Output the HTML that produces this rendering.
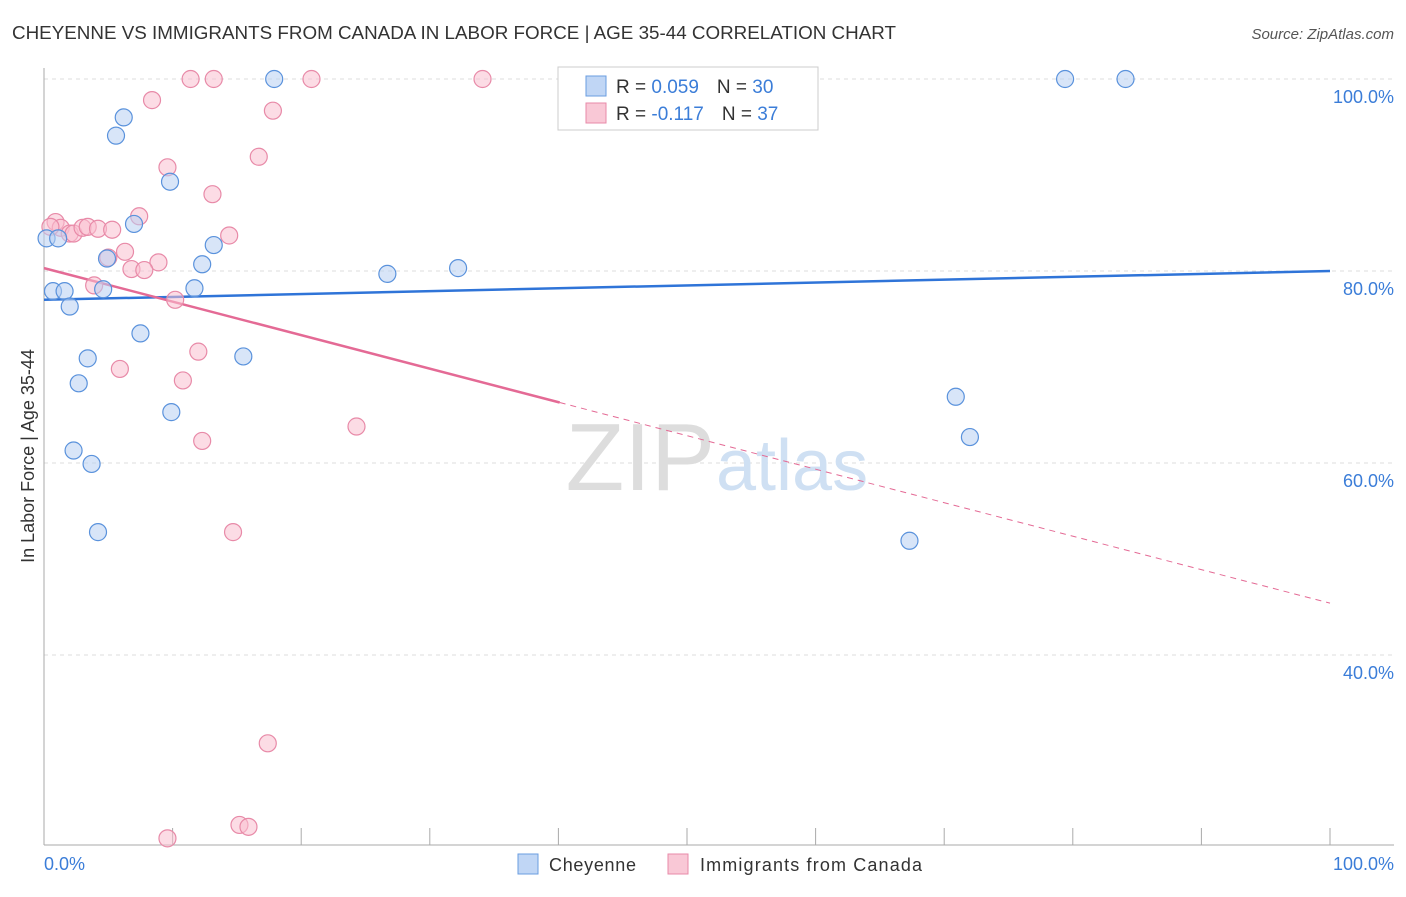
<!DOCTYPE html>
<html><head><meta charset="utf-8">
<style>
body{margin:0;background:#fff;font-family:"Liberation Sans",sans-serif;}
svg text{font-family:"Liberation Sans",sans-serif;}
</style></head>
<body>
<svg id="chart" width="1406" height="892">
<text x="12" y="39" font-size="18" fill="#333" textLength="884" lengthAdjust="spacingAndGlyphs">CHEYENNE VS IMMIGRANTS FROM CANADA IN LABOR FORCE | AGE 35-44 CORRELATION CHART</text>
<text x="1394" y="39" font-size="15" fill="#555" text-anchor="end" font-style="italic">Source: ZipAtlas.com</text>
<g id="grid"></g>
<line x1="44" y1="68" x2="44" y2="845" stroke="#aaa"/>
<line x1="44" y1="845" x2="1394" y2="845" stroke="#aaa"/>
<g id="xticks"></g>
<text x="715" y="490" font-size="96" fill="#ddd" text-anchor="end" font-family="Liberation Serif">ZIP</text>
<text x="716" y="490" font-size="72" fill="#cfe0f3">atlas</text>
<g id="trend"></g>
<g id="points"></g>
<text x="34" y="456" font-size="18" fill="#333" text-anchor="middle" transform="rotate(-90 34 456)">In Labor Force | Age 35-44</text>
<text x="44" y="870" font-size="18" fill="#3b7dd8">0.0%</text>
<text x="1394" y="870" font-size="18" fill="#3b7dd8" text-anchor="end">100.0%</text>
<g>
<rect x="558" y="67" width="260" height="63" fill="#fff" stroke="#ccc"/>
<rect x="586" y="76" width="20" height="20" fill="#c0d6f5" stroke="#6a9de0"/>
<rect x="586" y="103" width="20" height="20" fill="#f9c8d6" stroke="#e88aa8"/>
<text x="616" y="93" font-size="19" fill="#333">R = <tspan fill="#3b7dd8">0.059</tspan><tspan dx="18">N = </tspan><tspan fill="#3b7dd8">30</tspan></text>
<text x="616" y="120" font-size="19" fill="#333">R = <tspan fill="#3b7dd8">-0.117</tspan><tspan dx="18">N = </tspan><tspan fill="#3b7dd8">37</tspan></text>
</g>
<g>
<rect x="518" y="854" width="20" height="20" fill="#c0d6f5" stroke="#6a9de0"/>
<text x="549" y="871" font-size="18" fill="#333" textLength="87">Cheyenne</text>
<rect x="668" y="854" width="20" height="20" fill="#f9c8d6" stroke="#e88aa8"/>
<text x="700" y="871" font-size="18" fill="#333" textLength="222">Immigrants from Canada</text>
</g>
</svg>
<script>
const yTicks=[40,60,80,100];
const yTickLabels=["40.0%","60.0%","80.0%","100.0%"];
const blueX=[0.2,1.1,0.7,1.6,2.0,6.2,5.6,9.8,7.0,4.9,4.6,13.2,12.3,11.7,7.5,3.4,2.7,15.5,9.9,2.3,3.7,4.2,17.9,26.7,32.2,79.4,84.1,70.9,72.0,67.3];
const blueY=[83.4,83.4,77.9,77.9,76.3,96.0,94.1,89.3,84.9,81.3,78.1,82.7,80.7,78.2,73.5,70.9,68.3,71.1,65.3,61.3,59.9,52.8,100,79.7,80.3,100,100,66.9,62.7,51.9];
const pinkX=[11.4,13.2,20.8,34.1,8.4,17.8,16.7,9.6,13.1,7.4,0.9,1.3,2.0,2.3,3.0,3.4,4.2,5.3,14.4,6.3,5.0,8.9,6.8,7.8,10.2,3.9,12.0,5.9,10.8,12.3,24.3,14.7,17.4,15.2,15.9,9.6,0.5];
const pinkY=[100,100,100,100,97.8,96.7,91.9,90.8,88.0,85.7,85.1,84.5,83.9,83.9,84.5,84.6,84.4,84.3,83.7,82.0,81.4,80.9,80.2,80.1,77.0,78.5,71.6,69.8,68.6,62.3,63.8,52.8,30.8,22.3,22.1,20.9,84.6];
const X=v=>44+v*12.86, Y=v=>1039-v*9.6;
const NS='http://www.w3.org/2000/svg';
function mk(tag,attrs,parent){const e=document.createElementNS(NS,tag);for(const k in attrs)e.setAttribute(k,attrs[k]);document.getElementById(parent).appendChild(e);return e;}
yTicks.forEach((t,i)=>{
 const l=mk('line',{x1:44,x2:1394,y1:Y(t),y2:Y(t),stroke:'#ddd','stroke-dasharray':'4,4'},'grid');
 
 
 const tx=mk('text',{x:1394,y:Y(t)+24,'font-size':18,fill:'#3b7dd8','text-anchor':'end'},'grid');
 tx.textContent=yTickLabels[i];
 
 
});
for(let i=0;i<=10;i++){
 const l=mk('line',{x1:X(i*10),x2:X(i*10),y1:828,y2:845,stroke:'#aaa'},'xticks');
 
 
}
function pts(xs,ys,fill,stroke,name){xs.forEach((x,i)=>{
 const c=mk('circle',{cx:X(x),cy:Y(ys[i]),r:8.5,fill:fill,'fill-opacity':0.55,stroke:stroke,'stroke-width':1.2},'points');
 
 
});}
pts(pinkX,pinkY,'#f9c0d0','#e88aa8','canada-point');
pts(blueX,blueY,'#b8d0f3','#5a92dc','cheyenne-point');
let t=mk('line',{x1:X(0),y1:Y(77),x2:X(100),y2:Y(80),stroke:'#2f74d8','stroke-width':2.5},'trend');


t=mk('line',{x1:X(0),y1:Y(80.3),x2:X(40.1),y2:Y(66.3),stroke:'#e46a95','stroke-width':2.5},'trend');


t=mk('line',{x1:X(40.1),y1:Y(66.3),x2:X(100),y2:Y(45.4),stroke:'#e46a95','stroke-width':1,'stroke-dasharray':'6,5'},'trend');


</script>
</body></html>
